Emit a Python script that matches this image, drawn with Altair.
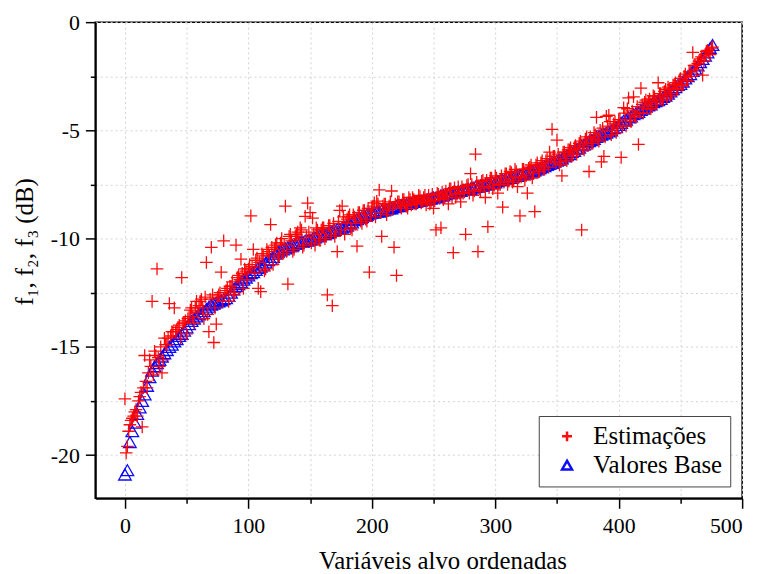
import altair as alt
import pandas as pd

series_names = ["Estimações", "Valores Base"]

# Valores Base (blue triangles), x = 0, 2, 4, ..., 476
x_base = list(range(0, 477, 2))
valores_base = [
    -20.9, -20.7, -19.4, -18.9, -18.5, -18.1, -17.8, -17.5, -17.2, -16.8,
    -16.4, -16.1, -15.9, -15.75, -15.6, -15.45, -15.3, -15.15, -15.0, -14.9,
    -14.75, -14.65, -14.5, -14.4, -14.25, -14.1, -13.95, -13.8, -13.7, -13.6,
    -13.5, -13.45, -13.35, -13.25, -13.15, -13.05, -13.0, -12.95, -12.9, -12.85,
    -12.8, -12.75, -12.65, -12.5, -12.35, -12.2, -12.1, -12.0, -11.9, -11.8,
    -11.7, -11.6, -11.55, -11.45, -11.35, -11.3, -11.2, -11.1, -11.0, -10.95,
    -10.85, -10.7, -10.6, -10.55, -10.5, -10.45, -10.4, -10.35, -10.3, -10.25,
    -10.2, -10.15, -10.15, -10.1, -10.1, -10.05, -10.0, -9.95, -9.9, -9.85,
    -9.8, -9.8, -9.75, -9.7, -9.65, -9.6, -9.55, -9.55, -9.5, -9.45,
    -9.4, -9.3, -9.25, -9.15, -9.1, -9.05, -9.0, -8.95, -8.9, -8.85,
    -8.8, -8.8, -8.75, -8.75, -8.7, -8.7, -8.65, -8.6, -8.6, -8.55,
    -8.5, -8.5, -8.45, -8.4, -8.4, -8.35, -8.35, -8.3, -8.3, -8.25,
    -8.25, -8.2, -8.2, -8.15, -8.15, -8.1, -8.1, -8.05, -8.0, -8.0,
    -7.95, -7.9, -7.9, -7.85, -7.85, -7.8, -7.8, -7.75, -7.75, -7.7,
    -7.7, -7.65, -7.6, -7.6, -7.55, -7.55, -7.5, -7.5, -7.45, -7.4,
    -7.4, -7.35, -7.3, -7.3, -7.25, -7.2, -7.2, -7.15, -7.1, -7.1,
    -7.05, -7.0, -7.0, -6.95, -6.9, -6.9, -6.85, -6.8, -6.75, -6.7,
    -6.65, -6.6, -6.55, -6.5, -6.45, -6.4, -6.35, -6.3, -6.2, -6.15,
    -6.1, -6.0, -5.95, -5.85, -5.8, -5.7, -5.65, -5.55, -5.5, -5.45,
    -5.4, -5.3, -5.25, -5.2, -5.15, -5.1, -5.05, -5.0, -4.9, -4.85,
    -4.75, -4.65, -4.55, -4.5, -4.4, -4.35, -4.25, -4.2, -4.15, -4.05,
    -4.0, -3.9, -3.85, -3.8, -3.7, -3.65, -3.6, -3.55, -3.45, -3.4,
    -3.3, -3.2, -3.1, -3.0, -2.9, -2.85, -2.75, -2.6, -2.5, -2.4,
    -2.25, -2.15, -2.0, -1.85, -1.7, -1.55, -1.4, -1.2, -1.05,
]

# Estimações (red pluses) at even x = 0, 2, ..., 476
x_est_even = list(range(0, 477, 2))
est_even = [
    -17.4, -19.6, -18.6, -18.3, -18.0, -18.2, -17.3, -18.7, -15.4, -16.9,
    -15.6, -12.9, -15.2, -11.4, -15.9, -16.2, -14.6, -14.9, -13.0, -14.3,
    -13.2, -14.2, -14.0, -11.8, -13.9, -14.4, -13.6, -13.2, -13.9, -12.9,
    -13.1, -12.8, -13.7, -11.1, -14.3, -10.4, -14.8, -13.95, -12.6, -11.55,
    -10.1, -12.4, -12.9, -12.2, -12.6, -10.3, -11.7, -10.95, -12.3, -11.5,
    -11.4, -8.95, -10.5, -11.0, -12.3, -12.45, -10.8, -11.4, -10.6, -9.35,
    -11.2, -10.3, -10.9, -10.2, -10.7, -8.5, -12.1, -9.8, -10.6, -9.9,
    -9.7, -9.5, -10.4, -8.97, -8.36, -8.8, -9.05, -10.3, -9.6, -10.1,
    -9.5, -10.0, -12.6, -9.4, -13.1, -9.9, -10.6, -8.7, -8.5, -9.8,
    -9.1, -8.9, -9.6, -9.0, -10.35, -8.8, -9.3, -8.7, -9.2, -11.55,
    -8.6, -8.35, -8.27, -7.75, -9.9, -8.4, -8.9, -8.5, -7.8, -10.4,
    -11.7, -8.3, -8.6, -8.2, -8.5, -8.1, -8.45, -8.2, -8.4, -8.0,
    -8.35, -8.1, -8.45, -8.0, -8.3, -8.6, -9.6, -7.95, -9.5, -8.2,
    -7.8, -8.4, -7.7, -10.65, -8.1, -7.6, -8.3, -7.9, -9.8, -7.5,
    -7.0, -8.0, -6.1, -10.6, -7.8, -7.3, -8.1, -9.45, -7.2, -7.7,
    -7.1, -7.9, -7.5, -8.55, -7.0, -7.5, -6.9, -7.4, -6.8, -7.6,
    -8.95, -6.8, -7.3, -7.9, -6.7, -7.2, -8.75, -6.5, -6.9, -6.4,
    -6.8, -6.3, -6.0, -4.95, -6.2, -5.45, -6.6, -7.1, -6.0, -6.4,
    -5.9, -6.2, -5.8, -6.1, -5.6, -9.6, -5.9, -5.3, -6.9, -5.6,
    -5.1, -4.4, -5.5, -6.45, -6.2, -4.35, -4.3, -5.2, -4.7, -5.1,
    -4.5, -6.25, -3.95, -4.8, -3.5, -4.6, -3.45, -4.4, -5.65, -3.05,
    -4.2, -3.6, -3.7, -4.0, -3.4, -3.8, -2.8, -3.3, -3.6, -3.1,
    -3.0, -3.4, -2.9, -2.8, -3.1, -2.6, -2.9, -2.4, -2.7, -2.3,
    -1.4, -2.0, -1.9, -1.7, -2.45, -1.5, -1.3, -1.5, -1.15,
]

# Estimações (red pluses) at odd x = 1, 3, ..., 475
x_est_odd = list(range(1, 476, 2))
est_odd = [
    -19.9, -18.9, -18.4, -18.2, -17.9, -17.5, -17.1, -16.9, -16.6, -16.2,
    -15.9, -16.3, -15.4, -15.5, -15.0, -15.6, -14.9, -14.6, -14.5, -14.3,
    -14.3, -14.1, -14.6, -13.9, -13.8, -13.7, -13.3, -13.6, -13.2, -13.4,
    -12.9, -13.2, -12.7, -13.5, -12.8, -12.6, -13.2, -12.7, -12.5, -12.9,
    -12.5, -12.3, -12.2, -12.0, -12.5, -11.8, -11.9, -11.6, -11.4, -11.9,
    -11.2, -11.3, -11.6, -10.9, -11.1, -10.7, -11.5, -10.5, -10.8, -10.4,
    -10.5, -10.2, -10.8, -10.0, -10.3, -10.6, -9.9, -10.1, -10.5, -9.8,
    -10.0, -9.6, -10.3, -9.9, -9.7, -10.2, -9.8, -9.5, -10.0, -9.6,
    -9.5, -9.9, -9.4, -9.8, -9.3, -9.7, -9.2, -9.6, -9.0, -9.3,
    -9.0, -9.5, -8.9, -9.3, -8.8, -9.2, -8.7, -9.1, -8.6, -8.9,
    -8.5, -9.0, -8.4, -8.8, -8.5, -8.4, -8.7, -8.3, -8.6, -8.4,
    -8.3, -8.5, -8.2, -8.45, -8.6, -8.2, -8.1, -8.4, -8.3, -8.05,
    -8.3, -8.0, -8.2, -8.4, -7.95, -8.25, -7.9, -8.15, -7.85, -8.1,
    -8.0, -7.7, -8.1, -7.65, -7.95, -7.9, -7.6, -7.85, -7.55, -7.9,
    -7.5, -7.8, -7.4, -7.7, -7.35, -7.6, -7.3, -7.65, -7.2, -7.55,
    -7.2, -7.5, -7.1, -7.4, -7.0, -7.35, -6.95, -7.3, -6.9, -7.2,
    -7.15, -6.8, -7.1, -6.75, -6.6, -7.0, -6.6, -6.9, -6.5, -6.8,
    -6.4, -6.7, -6.3, -6.2, -6.5, -6.1, -6.45, -6.0, -6.3, -5.9,
    -5.8, -6.1, -5.7, -5.9, -5.5, -5.8, -5.4, -5.7, -5.3, -5.6,
    -5.2, -5.4, -5.0, -4.9, -5.3, -4.8, -4.6, -5.0, -4.6, -4.9,
    -4.5, -4.8, -4.2, -4.0, -4.5, -4.1, -4.3, -3.9, -4.2, -3.8,
    -3.7, -4.0, -3.55, -3.9, -3.45, -3.7, -3.3, -3.6, -3.2, -3.5,
    -3.1, -3.3, -2.9, -3.1, -2.7, -2.95, -2.5, -2.7, -2.3, -2.5,
    -2.0, -2.2, -1.8, -1.6, -1.8, -1.35, -1.4, -1.2,
]

x_ticks = [0, 50, 100, 150, 200, 250, 300, 350, 400, 450, 500]
y_ticks = [-20, -17.5, -15, -12.5, -10, -7.5, -5, -2.5, 0]

# long table: base first (drawn underneath), then estimates
est_pairs = sorted(list(zip(x_est_even, est_even)) + list(zip(x_est_odd, est_odd)))
df = pd.concat([
    pd.DataFrame({"x": x_base, "y": valores_base, "serie": series_names[1]}),
    pd.DataFrame({"x": [p[0] for p in est_pairs], "y": [p[1] for p in est_pairs],
                  "serie": series_names[0]}),
], ignore_index=True)

plus_path = "M-1,0H1M0,-1V1"
font = "Liberation Serif"

legend = alt.Legend(title=None, orient="bottom-right", offset=12)

chart = alt.Chart(df).mark_point(filled=False, size=160, strokeWidth=1.3, opacity=0.95).encode(
    x=alt.X("x:Q",
            scale=alt.Scale(domain=[-24, 500], nice=False, zero=False),
            axis=alt.Axis(values=x_ticks, grid=True,
                          labelExpr="datum.value % 100 === 0 ? '' + datum.value : ''",
                          tickSize={"condition": {"test": "datum.value % 100 !== 0", "value": 5}, "value": 10},
                          labelPadding=7,
                          title="Variáveis alvo ordenadas",
                          titleX=350, titleY=71, titleAlign="center", titleBaseline="alphabetic")),
    y=alt.Y("y:Q",
            scale=alt.Scale(domain=[-22, 0], nice=False, zero=False),
            axis=alt.Axis(values=y_ticks, grid=True,
                          labelExpr="datum.value % 5 === 0 ? '' + datum.value : ''",
                          tickSize={"condition": {"test": "datum.value % 5 !== 0", "value": 5}, "value": 10},
                          labelPadding=6,
                          title="f₁, f₂, f₃ (dB)",
                          titleX=-71, titleY=221, titleAlign="center", titleBaseline="middle")),
    color=alt.Color("serie:N", scale=alt.Scale(domain=series_names, range=["#FF0000", "#0000FF"]),
                    legend=legend),
    shape=alt.Shape("serie:N", scale=alt.Scale(domain=series_names, range=[plus_path, "triangle-up"]),
                    legend=legend),
).properties(
    width=652, height=480,
    autosize=alt.AutoSizeParams(type="none"),
    padding={"left": 88, "top": 12, "right": 18, "bottom": 77},
    background="white",
).configure_axis(
    labelFont=font, labelFontSize=22, labelColor="black",
    titleFont=font, titleFontSize=25, titleColor="black", titleFontWeight="normal",
    domainColor="black", domainWidth=2, tickColor="black", tickWidth=1.5,
    gridColor="#d2d2d2", gridDash=[2, 3], gridWidth=1,
).configure_view(
    stroke="black", strokeWidth=1.5,
).configure_legend(
    labelFont=font, labelFontSize=25, labelColor="black",
    strokeColor="#444444", strokeWidth=1, fillColor="white",
    padding=8, rowPadding=3, symbolOffset=8, labelOffset=14,
    symbolSize=100, symbolStrokeWidth=2.5, cornerRadius=0,
)

chart.save("out.html", embed_options={"renderer": "svg", "actions": False})
